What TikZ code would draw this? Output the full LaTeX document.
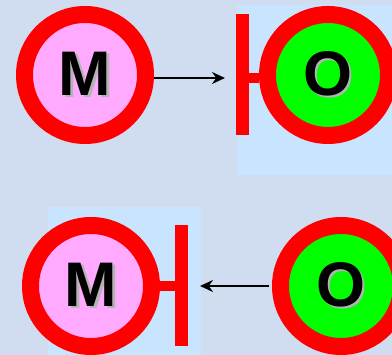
\documentclass[tikz,border=0pt]{standalone}
\usepackage{fontspec}
\setsansfont{Liberation Sans}
\usetikzlibrary{arrows.meta, positioning}
\definecolor{page}{HTML}{D0DCF0}
\definecolor{zone}{HTML}{C8E4FF}
\definecolor{ring}{HTML}{FF0000}
\definecolor{mfill}{HTML}{FFAAFF}
\definecolor{ofill}{HTML}{00FF00}
\definecolor{shade}{HTML}{B4B4B4}
\newcommand\embossed[1]{\makebox[0pt][l]{\hspace{2.5pt}\raisebox{-2.5pt}{\textcolor{shade}{#1}}}#1}
\tikzset{
  >={Stealth[length=13pt, width=12pt]},
  %
  actor/.style={
    circle, draw=ring, line width=17pt, minimum size=121pt, inner sep=0pt,
    font=\sffamily\bfseries\fontsize{63}{63}\selectfont, text=black,
  },
  actm/.style={actor, fill=mfill},
  acto/.style={actor, fill=ofill},
  %
  bar/.style={rectangle, fill=ring, minimum width=13pt, minimum height=121pt,
              inner sep=0pt, outer sep=0pt},
  stub/.style={draw=ring, line width=10pt},
  flow/.style={draw=black, line width=2pt, ->},
}
\begin{document}
\begin{tikzpicture}[x=1pt, y=1pt]

  \useasboundingbox (0,0) rectangle (392,355);
  \clip (0,0) rectangle (392,355);
  \fill[page] (0,0) rectangle (392,355);

  % highlighted zones
  \fill[zone] (237,180) rectangle (392,350);
  \fill[zone] (48,0) rectangle (201,148);

  % top row
  \node[actm] (m1) at (85,280) {\embossed{M}};
  \node[acto] (o1) at (328,280) {\embossed{O}};
  \node[bar, left=10pt of o1] (b1) {};
  \draw[stub] ([yshift=-3pt]b1.east) -- ([yshift=-3pt]o1.west);
  \draw[flow, shorten >=11pt] ([yshift=-3pt]m1.east) -- ([yshift=-3pt]b1.west);

  % bottom row
  \node[actm] (m2) at (91,69) {\embossed{M}};
  \node[acto] (o2) at (341,69) {\embossed{O}};
  \node[bar, right=15pt of m2] (b2) {};
  \draw[stub] (m2.east) -- (b2.west);
  \draw[flow, shorten >=12pt, shorten <=3pt] (o2.west) -- (b2.east);

\end{tikzpicture}
\end{document}
